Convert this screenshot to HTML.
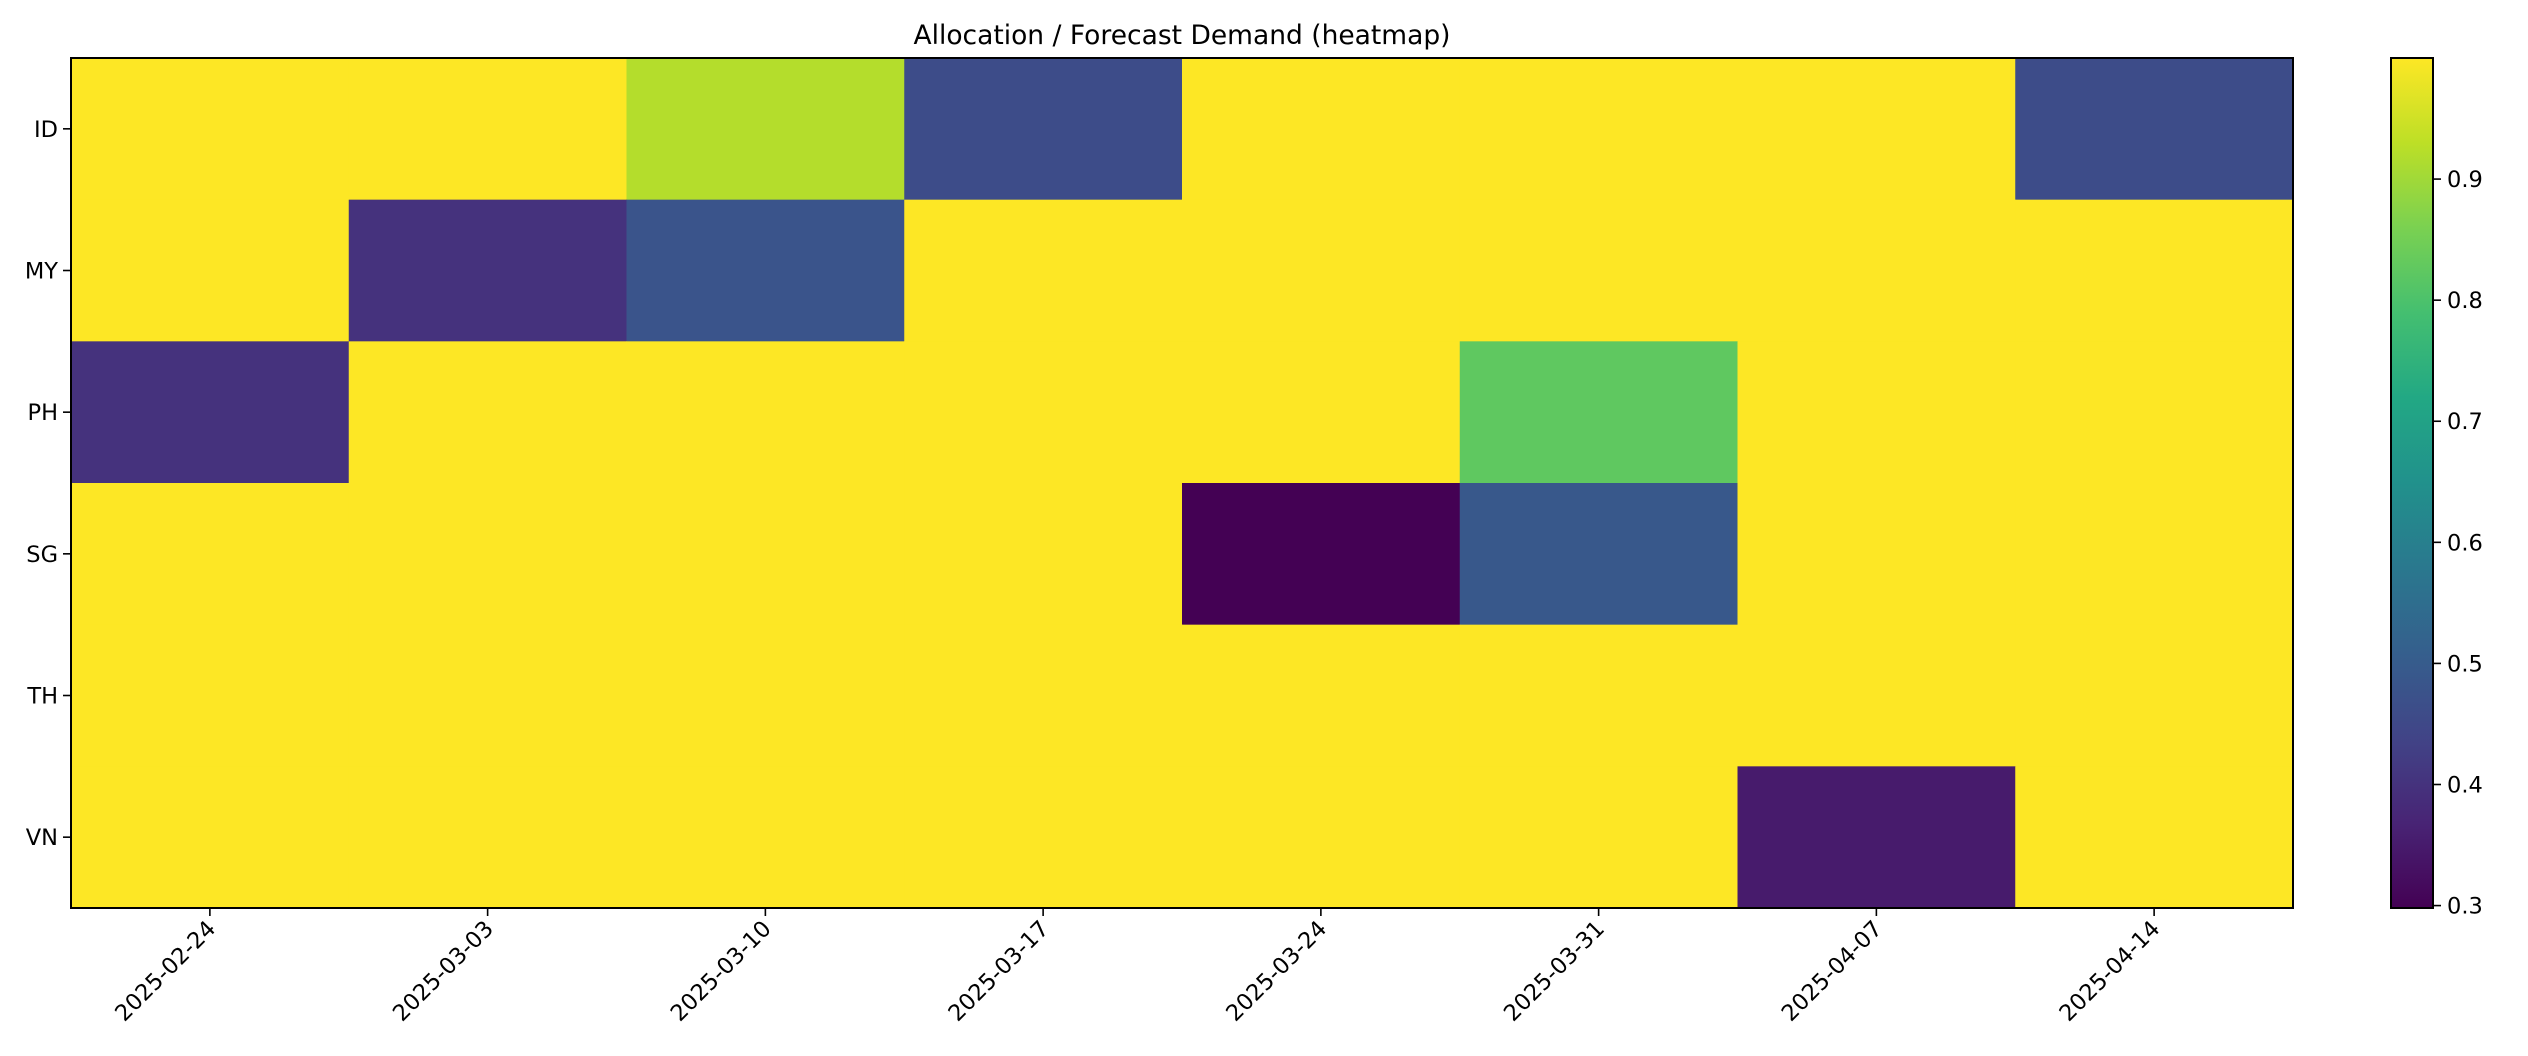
<!DOCTYPE html>
<html><head><meta charset="utf-8"><style>html,body{margin:0;padding:0;background:#fff}svg{display:block}text{font-family:"DejaVu Sans","Liberation Sans",sans-serif;fill:#000}</style></head>
<body>
<svg id="chart" width="2528" height="1056" xmlns="http://www.w3.org/2000/svg">
<text x="1182" y="44" font-size="26.5" text-anchor="middle">Allocation / Forecast Demand (heatmap)</text>
<g id="cells"></g>
<g id="axes"></g>
<defs><linearGradient id="vg" x1="0" y1="1" x2="0" y2="0"></linearGradient></defs>
<g id="cbar"></g>
</svg>
<script>
const rows = ["ID","MY","PH","SG","TH","VN"];
const cols = ["2025-02-24","2025-03-03","2025-03-10","2025-03-17","2025-03-24","2025-03-31","2025-04-07","2025-04-14"];
const rowID = [1,1,0.92,0.46,1,1,1,0.46];
const rowMY = [1,0.40,0.48,1,1,1,1,1];
const rowPH = [0.40,1,1,1,1,0.825,1,1];
const rowSG = [1,1,1,1,0.298,0.49,1,1];
const rowTH = [1,1,1,1,1,1,1,1];
const rowVN = [1,1,1,1,1,1,0.35,1];
const values = [rowID,rowMY,rowPH,rowSG,rowTH,rowVN];
const cbTicks = [0.3,0.4,0.5,0.6,0.7,0.8,0.9];
const vmin = 0.298, vmax = 1.0;

const NS="http://www.w3.org/2000/svg";
const L=71,R=2293,T=58,B=908;
const vir=["#440154","#482475","#414487","#355f8d","#2a788e","#21918c","#22a884","#44bf70","#7ad151","#bddf26","#fde725"];
function hex(h){return [1,3,5].map(i=>parseInt(h.substr(i,2),16));}
function viridis(t){t=Math.max(0,Math.min(1,t));const p=t*10,i=Math.min(9,Math.floor(p)),f=p-i;const a=hex(vir[i]),b=hex(vir[i+1]);return "rgb("+a.map((v,k)=>Math.round(v+(b[k]-v)*f)).join(",")+")";}
const norm=v=>(v-vmin)/(vmax-vmin);
const cw=(R-L)/cols.length, ch=(B-T)/rows.length;
const xPos=j=>L+j*cw, yPos=i=>T+i*ch;
function mk(tag,attrs,parent,txt){const e=document.createElementNS(NS,tag);for(const k in attrs)e.setAttribute(k,attrs[k]);if(txt!==undefined)e.textContent=txt;parent.appendChild(e);return e;}
const cells=document.getElementById('cells');
values.forEach((row,i)=>row.forEach((v,j)=>{
  const r=mk('rect',{x:xPos(j),y:yPos(i),width:cw+0.5,height:ch+0.5,fill:viridis(norm(v))},cells);
  
  
}));
const ax=document.getElementById('axes');
const fr=mk('rect',{x:L,y:T,width:R-L,height:B-T,fill:'none',stroke:'#000','stroke-width':2},ax);


rows.forEach((r,i)=>{const y=yPos(i)+ch/2;
  mk('line',{x1:L-8,x2:L,y1:y,y2:y,stroke:'#000','stroke-width':1.6},ax);
  const t=mk('text',{x:L-13,y:y+8,'font-size':22.5,'text-anchor':'end'},ax,r);
  
  
});
cols.forEach((c,j)=>{const x=xPos(j)+cw/2;
  mk('line',{x1:x,x2:x,y1:B,y2:B+8,stroke:'#000','stroke-width':1.6},ax);
  const t=mk('text',{x:x+7,y:B+22,'font-size':22.5,'text-anchor':'end',transform:'rotate(-45 '+(x+7)+' '+(B+22)+')'},ax,c);
  
  
});
const g=document.getElementById('vg');
for(let k=0;k<=10;k++)mk('stop',{offset:(k*10)+'%','stop-color':vir[k]},g);
const cb=document.getElementById('cbar');
const CL=2391,CR=2433;
const cby=v=>B-(v-vmin)/(vmax-vmin)*(B-T);
const cr=mk('rect',{x:CL,y:T,width:CR-CL,height:B-T,fill:'url(#vg)',stroke:'#000','stroke-width':2},cb);


cbTicks.forEach(v=>{const y=cby(v);
  mk('line',{x1:CR,x2:CR+8,y1:y,y2:y,stroke:'#000','stroke-width':1.6},cb);
  const t=mk('text',{x:CR+14,y:y+8,'font-size':22.5},cb,v.toFixed(1));
  
  
});
</script>
</body></html>
